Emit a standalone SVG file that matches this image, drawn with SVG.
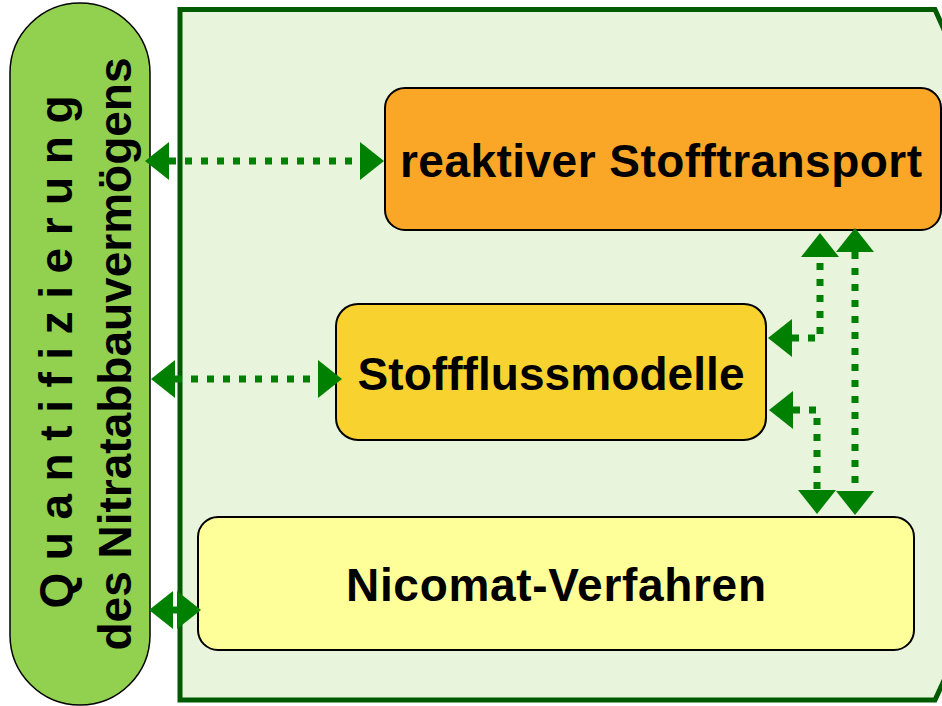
<svg xmlns="http://www.w3.org/2000/svg" width="942" height="706" viewBox="0 0 942 706">
<style>
.lbl{font-family:"Liberation Sans",Arial,sans-serif;font-weight:bold;font-size:46px;fill:#000;text-anchor:middle}
.box{stroke:#000;stroke-width:2}
.con{fill:none;stroke:#008000;stroke-width:7;stroke-dasharray:7 9;marker-start:url(#ah);marker-end:url(#ah)}
</style>
<defs>
<marker id="ah" viewBox="0 0 24 38" refX="0" refY="19" markerWidth="24" markerHeight="38" markerUnits="userSpaceOnUse" orient="auto-start-reverse">
<path d="M0,0 L24,19 L0,38 Z" fill="#008000"/>
</marker>
</defs>
<rect width="942" height="706" fill="#ffffff"/>
<g id="container">
<polygon points="180,9.5 935,9.5 946,34 946,676 935,700 180,700" fill="#e8f4dc" stroke="#005a00" stroke-width="5"/>
</g>
<g id="quantifizierung">
<rect x="10" y="3" width="140" height="702" rx="70" ry="70" fill="#92d050" stroke="#000" stroke-width="1.5"/>
<text class="lbl" transform="translate(72,352) rotate(-90)" textLength="513" lengthAdjust="spacing">Q u a n t i f i z i e r u n g</text>
<text class="lbl" transform="translate(131,354) rotate(-90)">des Nitratabbauvermögens</text>
</g>
<g id="reaktiver">
<rect class="box" x="385" y="88" width="556" height="142" rx="20" fill="#faa627"/>
<text class="lbl" x="661" y="177" textLength="522">reaktiver Stofftransport</text>
</g>
<g id="stofffluss">
<rect class="box" x="336" y="304" width="430" height="136" rx="22" fill="#f8d330"/>
<text class="lbl" x="551" y="390" textLength="387">Stoffflussmodelle</text>
</g>
<g id="nicomat">
<rect class="box" x="198" y="517" width="716" height="133" rx="20" fill="#ffff99"/>
<text class="lbl" x="556" y="601" textLength="420">Nicomat-Verfahren</text>
</g>
<g id="connectors">
<path class="con" d="M169,161 H360"/>
<path class="con" d="M175,379 H318"/>
<path class="con" d="M173,610 H177"/>
<path class="con" d="M855,252 V491"/>
<path class="con" d="M792,338 H820 V257"/>
<path class="con" d="M793,410 H817 V490"/>
</g>
</svg>
